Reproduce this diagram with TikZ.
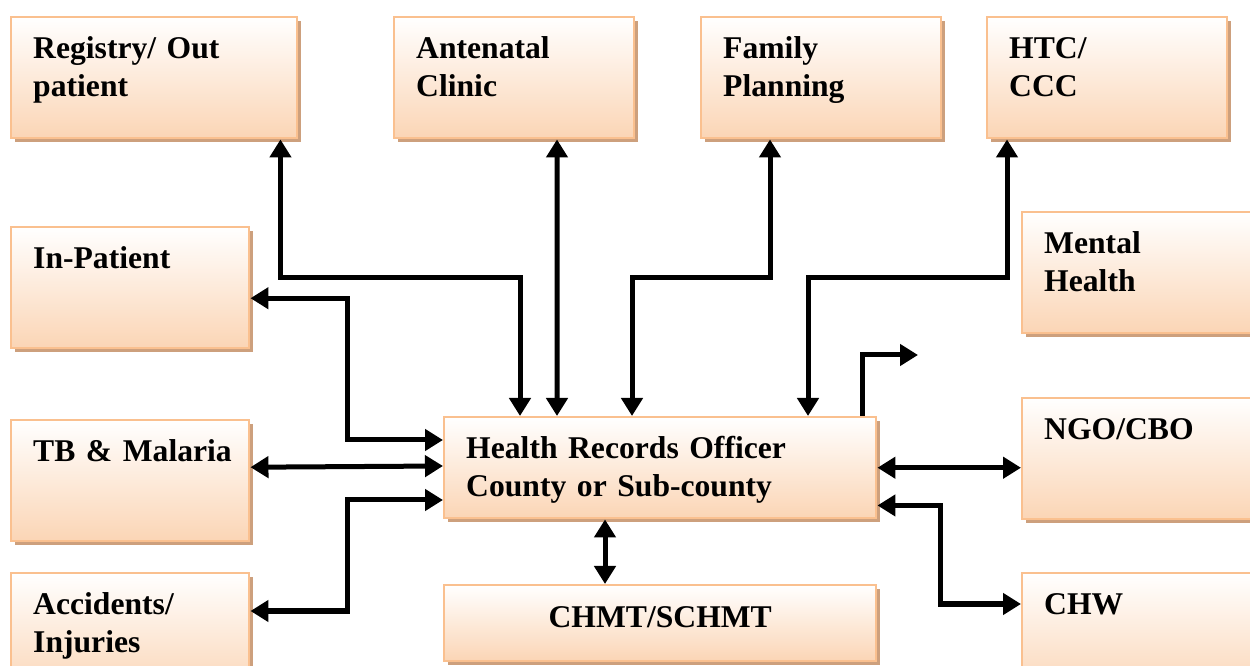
\documentclass[tikz,border=0pt]{standalone}
\usepackage{fontspec}
\setmainfont{Liberation Serif}
\usetikzlibrary{arrows.meta,shadows}
\definecolor{peachline}{RGB}{250,192,143}
\definecolor{peachfill}{RGB}{251,213,181}
\definecolor{peachshadow}{RGB}{205,160,125}

\begin{document}
\begin{tikzpicture}[>={Triangle[length=0.36cm,width=0.42cm]},
unit/.style={rectangle, draw=peachline, line width=1.4pt, top color=white, bottom color=peachfill, general shadow={fill=peachshadow, shadow xshift=0.07cm, shadow yshift=-0.07cm}, anchor=north west, inner xsep=0.44cm, inner ysep=0pt, text height=0.82cm, text depth=1.6cm, align=left, text width=#1, font=\bfseries\fontsize{18}{21.6}\selectfont},
unit/.default=3.92cm,
link/.style={line width=0.1cm, <->},
oneway/.style={line width=0.1cm, ->}]
\useasboundingbox (0,0) rectangle (25,-13.32);
\clip (0,0) rectangle (25,-13.32);
\node [unit=4.84cm] (reg) at (0.2,-0.32) {Registry/ Out\\patient};
\node [unit] (anc) at (7.86,-0.32) {Antenatal\\Clinic};
\node [unit] (fp) at (14.0,-0.32) {Family\\Planning};
\node [unit] (htc) at (19.72,-0.32) {HTC/\\CCC};
\node [unit=3.88cm] (inp) at (0.2,-4.52) {In-Patient};
\node [unit] (mh) at (20.42,-4.22) {Mental\\Health};
\node [unit=3.88cm] (tb) at (0.2,-8.38) {\mbox{TB \& Malaria}};
\node [unit=7.76cm, text depth=1.2cm] (hro) at (8.86,-8.32) {Health Records Officer\\County or Sub-county};
\node [unit] (ngo) at (20.42,-7.94) {NGO/CBO};
\node [unit=3.88cm] (acc) at (0.2,-11.44) {Accidents/\\Injuries};
\node [unit=7.76cm, text height=0.84cm, text depth=0.68cm, align=center] (chmt) at (8.86,-11.68) {CHMT/SCHMT};
\node [unit] (chw) at (20.42,-11.44) {CHW};
\coordinate (loose) at (18.36,-7.1);
\draw [link] ([xshift=-0.36cm]reg.south east) -- ++(0,-2.76) -| ([xshift=1.54cm]hro.north west);
\draw [link] ([xshift=3.28cm]anc.south west) -- ([xshift=2.28cm]hro.north west);
\draw [link] ([xshift=1.4cm]fp.south west) -- ++(0,-2.76) -| ([xshift=3.78cm]hro.north west);
\draw [link] ([xshift=0.42cm]htc.south west) -- ++(0,-2.76) -| ([xshift=7.3cm]hro.north west);
\draw [link] ([yshift=-0.21cm]inp.east) -- ++(1.94,0) |- ([yshift=-0.48cm]hro.north west);
\draw [link] ([yshift=0.27cm]tb.east) -- ([yshift=-1cm]hro.north west);
\draw [link] ([yshift=-0.78cm]acc.north east) -- ++(1.94,0) |- ([yshift=-1.68cm]hro.north west);
\draw [oneway] ([xshift=-0.3cm]hro.north east) |- (loose);
\draw [link] (hro.east) -- (hro.east -| ngo.west);
\draw [link] ([yshift=0.28cm]hro.south east) -- ++(1.26,0) |- ([yshift=-0.64cm]chw.north west);
\draw [link] ([xshift=3.24cm]hro.south west) -- ([xshift=3.24cm]chmt.north west);
\end{tikzpicture}
\end{document}
